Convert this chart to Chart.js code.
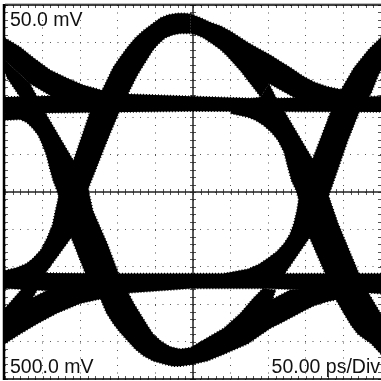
<!DOCTYPE html>
<html>
<head>
<meta charset="utf-8">
<style>
  html, body { margin: 0; padding: 0; background: #fff; }
  canvas { display: block; }
</style>
<script src="https://cdn.jsdelivr.net/npm/chart.js@4/dist/chart.umd.min.js"></script>
</head>
<body>
<canvas id="eyeChart" width="381" height="381"></canvas>
<script>
// eye outline: time in ps, level in mV
const topPlateauT = [0, 164, 247, 337, 500, 500, 247, 0];
const topPlateauV = [627, 631, 628, 625, 628, 607, 608, 605];
const lowPlateauT = [0, 153, 291, 500, 500, 440, 343, 247, 164, 60, 0];
const lowPlateauV = [392, 391, 391, 391, 364, 368, 371, 371, 365, 368, 371];
const humpLeftT = [0, 20, 37, 60, 83, 104, 129, 160, 160, 67, 33, 0];
const humpLeftV = [706, 694, 680, 663, 652, 643, 636, 628, 623, 625, 645, 676];
const riseLeftT = [0, 16, 28, 37, 48, 56, 63, 67, 73, 91, 113, 129, 144, 153, 163, 173, 184, 196, 207, 217, 229, 240, 247, 247, 233, 223, 213, 204, 197, 187, 176, 164, 151, 136, 111, 93, 88, 49, 0];
const riseLeftV = [395, 399, 404, 411, 423, 439, 456, 475, 502, 542, 607, 636, 667, 680, 694, 706, 716, 725, 733, 737, 739, 739, 738, 712, 712, 710, 706, 698, 690, 674, 656, 632, 605, 569, 505, 468, 439, 385, 371];
const troughLeftT = [0, 3, 23, 43, 43, 37, 57, 87, 127, 127, 100, 69, 43, 20, 0];
const troughLeftV = [345, 348, 371, 375, 369, 359, 369, 381, 375, 357, 351, 338, 324, 310, 297];
const fallT = [0, 33, 43, 53, 91, 111, 117, 136, 151, 164, 172, 180, 188, 197, 208, 220, 233, 247, 257, 269, 291, 313, 331, 343, 360, 356, 379, 440, 440, 427, 411, 397, 384, 369, 353, 323, 291, 269, 247, 233, 223, 211, 197, 184, 173, 163, 153, 144, 135, 127, 108, 88, 69, 64, 60, 55, 49, 44, 37, 29, 20, 0, 0, 20, 3, 0];
const fallV = [676, 645, 627, 607, 542, 502, 475, 431, 391, 365, 350, 337, 324, 310, 300, 293, 290, 292, 298, 305, 318, 338, 359, 371, 369, 357, 369, 375, 356, 353, 348, 341, 334, 326, 318, 297, 283, 274, 269, 267, 267, 270, 274, 281, 290, 301, 312, 324, 338, 357, 388, 439, 502, 515, 529, 549, 565, 576, 585, 593, 597, 596, 605, 627, 652, 660];
const humpRightT = [247, 260, 273, 287, 300, 323, 337, 353, 367, 380, 396, 411, 428, 447, 460, 460, 387, 351, 340, 323, 313, 304, 295, 287, 276, 264, 255, 247];
const humpRightV = [738, 733, 727, 722, 715, 700, 692, 683, 674, 666, 655, 647, 641, 637, 628, 623, 625, 645, 627, 649, 662, 672, 682, 690, 698, 706, 710, 712];
const fallRightT = [300, 323, 333, 344, 355, 363, 371, 376, 381, 387, 393, 405, 427, 440, 451, 460, 469, 477, 487, 500, 500, 484, 469, 443, 431, 409, 372, 361, 351, 340, 300];
const fallRightV = [605, 600, 596, 589, 579, 569, 553, 533, 515, 502, 482, 439, 388, 356, 337, 322, 310, 304, 297, 283, 337, 364, 395, 458, 493, 544, 607, 625, 645, 627, 620];
const riseRightT = [291, 323, 337, 349, 361, 371, 379, 384, 388, 391, 409, 433, 447, 464, 483, 500, 500, 496, 487, 471, 456, 433, 420, 405, 368, 343];
const riseRightV = [391, 397, 403, 411, 420, 431, 444, 458, 475, 493, 544, 607, 637, 666, 690, 707, 663, 655, 632, 607, 569, 502, 468, 439, 385, 371];

const scaleLabel = '50.0 mV';
const offsetLabel = '500.0 mV';
const timeLabel = '50.00 ps/Div';

const bands = [
  [topPlateauT, topPlateauV],
  [lowPlateauT, lowPlateauV],
  [humpLeftT, humpLeftV],
  [riseLeftT, riseLeftV],
  [troughLeftT, troughLeftV],
  [fallT, fallV],
  [humpRightT, humpRightV],
  [fallRightT, fallRightV],
  [riseRightT, riseRightV],
];

// centre cross and small ticks go under the trace, frame and labels over it
const scopeFrame = {
  id: 'scopeFrame',
  beforeDatasetsDraw(chart) {
    const { ctx, chartArea: a, scales: { x, y } } = chart;
    const cx = Math.round(x.getPixelForValue(250));
    const cy = Math.round(y.getPixelForValue(500));
    ctx.save();
    ctx.strokeStyle = '#555';
    ctx.lineWidth = 1;
    ctx.beginPath();
    for (let t = 0; t <= 500; t += 10) {
      const px = Math.round(x.getPixelForValue(t)) + 0.5;
      ctx.moveTo(px, a.top); ctx.lineTo(px, a.top + 3);
      ctx.moveTo(px, a.bottom); ctx.lineTo(px, a.bottom - 3);
      ctx.moveTo(px, cy - 3); ctx.lineTo(px, cy + 3);
    }
    for (let v = 250; v <= 750; v += 10) {
      const py = Math.round(y.getPixelForValue(v)) + 0.5;
      ctx.moveTo(a.left, py); ctx.lineTo(a.left + 3, py);
      ctx.moveTo(a.right, py); ctx.lineTo(a.right - 3, py);
      ctx.moveTo(cx - 3, py); ctx.lineTo(cx + 3, py);
    }
    ctx.stroke();
    ctx.strokeStyle = '#222';
    ctx.lineWidth = 1.5;
    ctx.beginPath();
    ctx.moveTo(a.left, cy); ctx.lineTo(a.right, cy);
    ctx.moveTo(cx, a.top); ctx.lineTo(cx, a.bottom);
    ctx.stroke();
    ctx.restore();
  },
  afterDatasetsDraw(chart) {
    const { ctx, chartArea: a } = chart;
    ctx.save();
    ctx.strokeStyle = '#bbb';
    ctx.lineWidth = 1;
    ctx.beginPath();
    ctx.moveTo(a.left, a.top - 1.5); ctx.lineTo(a.right, a.top - 1.5);
    ctx.stroke();
    ctx.strokeStyle = '#000';
    ctx.lineWidth = 1.5;
    ctx.beginPath();
    ctx.moveTo(a.left, a.top); ctx.lineTo(a.right, a.top);
    ctx.moveTo(a.left, a.bottom); ctx.lineTo(a.right, a.bottom);
    ctx.stroke();
    ctx.lineWidth = 2.5;
    ctx.beginPath();
    ctx.moveTo(a.left - 1, a.top - 1); ctx.lineTo(a.left - 1, a.bottom + 1);
    ctx.stroke();
    ctx.fillStyle = '#111';
    ctx.font = '19.5px "Liberation Sans", Arial, sans-serif';
    ctx.textBaseline = 'alphabetic';
    ctx.textAlign = 'left';
    ctx.fillText(scaleLabel, a.left + 5, a.top + 21);
    ctx.fillText(offsetLabel, a.left + 5, a.bottom - 6);
    ctx.textAlign = 'right';
    ctx.fillText(timeLabel, a.right - 1, a.bottom - 6);
    ctx.restore();
  },
};

new Chart(document.getElementById('eyeChart'), {
  type: 'scatter',
  data: {
    datasets: bands.map(([ts, vs]) => ({
      data: ts.map((t, i) => ({ x: t, y: vs[i] })),
      showLine: true,
      fill: 'shape',
      backgroundColor: '#000',
      borderColor: '#000',
      borderWidth: 1.5,
      borderDash: [1, 2],
      pointRadius: 0,
      tension: 0,
    })),
  },
  options: {
    responsive: false,
    animation: false,
    layout: { padding: { left: 5, right: 0, top: 5, bottom: 2 } },
    plugins: { legend: { display: false }, tooltip: { enabled: false } },
    scales: {
      x: {
        type: 'linear',
        min: 0,
        max: 500,
        ticks: { display: false, stepSize: 50 },
        grid: { color: '#555', drawTicks: false },
        border: { display: false, dash: [1, 6.5] },
      },
      y: {
        type: 'linear',
        min: 250,
        max: 750,
        ticks: { display: false, stepSize: 50 },
        grid: { color: '#555', drawTicks: false },
        border: { display: false, dash: [1, 6.5] },
      },
    },
  },
  plugins: [scopeFrame],
});
</script>
</body>
</html>
